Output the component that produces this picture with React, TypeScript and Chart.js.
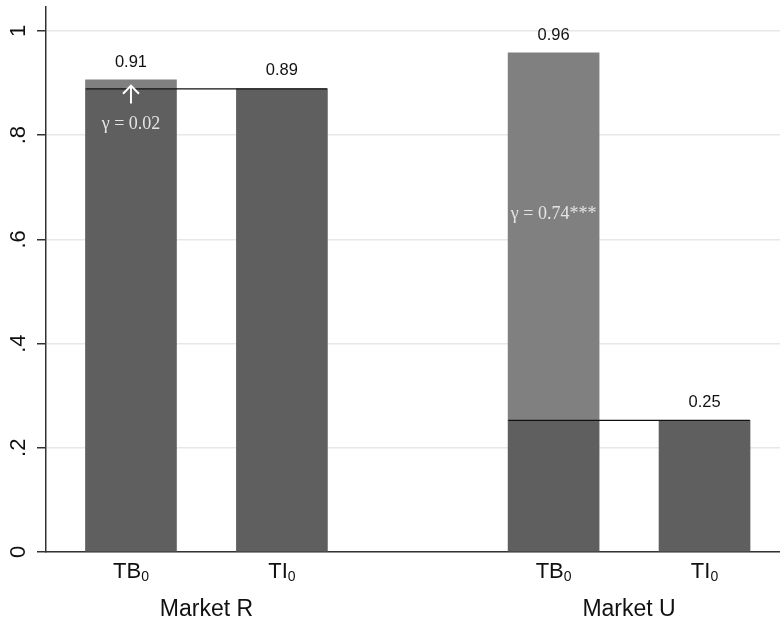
import React, { useEffect, useRef } from "react";
import { Chart, registerables } from "chart.js";

Chart.register(...registerables);

// ---- data ----
const markets = ["Market R", "Market U"];
const categoryNames = ["TB", "TI"];
const categorySubscripts = ["0", "0"];
const tiValues = [0.889, 0.2525]; // TI0 share (also the baseline inside TB0)
const tbValues = [0.906, 0.958]; // TB0 share
const tbLabels = ["0.91", "0.96"];
const tiLabels = ["0.89", "0.25"];
const gammaLabels = ["γ = 0.02", "γ = 0.74***"];
const yTickValues = [0, 0.2, 0.4, 0.6, 0.8, 1];
const yTickLabels = ["0", ".2", ".4", ".6", ".8", "1"];

// ---- layout constants (not data) ----
const GROUP_STRIDE = 2.8;
const HALF_BAR = 0.3;
const gammaY = [0.82, 0.648];
const arrowFrom = 0.861;
const arrowTo = 0.895;

const pos = (m: number, j: number) => 1 + j + m * GROUP_STRIDE;

const DARK = "#5f5f5f";
const LIGHT = "#808080";
const SANS = "'Liberation Sans', Arial, Helvetica, sans-serif";
const SERIF = "'Liberation Serif', 'Times New Roman', serif";

export default function App() {
  const ref = useRef<HTMLCanvasElement | null>(null);

  useEffect(() => {
    document.body.style.margin = "0";
    const canvas = ref.current;
    if (!canvas) return;

    const baseData = markets.flatMap((_, m) => [
      { x: pos(m, 0), y: tiValues[m] },
      { x: pos(m, 1), y: tiValues[m] },
    ]);
    const gapData = markets.map((_, m) => ({ x: pos(m, 0), y: [tiValues[m], tbValues[m]] }));

    const lineSets = markets.map((_, m) => ({
      type: "line" as const,
      data: [
        { x: pos(m, 0) - HALF_BAR, y: tiValues[m] },
        { x: pos(m, 1) + HALF_BAR, y: tiValues[m] },
      ],
      borderColor: "#111",
      borderWidth: 1.3,
      pointRadius: 0,
      order: 0,
    }));

    const overlay = {
      id: "overlay",
      afterDatasetsDraw(chart: any) {
        const ctx = chart.ctx;
        const xs = chart.scales.x;
        const ys = chart.scales.y;
        ctx.save();
        ctx.fillStyle = "#111";
        ctx.font = `16.5px ${SANS}`;
        ctx.textAlign = "center";
        ctx.textBaseline = "middle";
        markets.forEach((_, m) => {
          ctx.fillText(tbLabels[m], xs.getPixelForValue(pos(m, 0)), ys.getPixelForValue(tbValues[m]) - 17);
          ctx.fillText(tiLabels[m], xs.getPixelForValue(pos(m, 1)), ys.getPixelForValue(tiValues[m]) - 18);
        });
        ctx.fillStyle = "#e4e4e4";
        ctx.font = `18px ${SERIF}`;
        markets.forEach((_, m) => {
          ctx.fillText(gammaLabels[m], xs.getPixelForValue(pos(m, 0)), ys.getPixelForValue(gammaY[m]));
        });
        const ax = xs.getPixelForValue(pos(0, 0));
        const y0 = ys.getPixelForValue(arrowFrom);
        const y1 = ys.getPixelForValue(arrowTo);
        ctx.strokeStyle = "#ffffff";
        ctx.lineWidth = 2;
        ctx.beginPath();
        ctx.moveTo(ax, y0);
        ctx.lineTo(ax, y1);
        ctx.moveTo(ax - 8, y1 + 8);
        ctx.lineTo(ax, y1);
        ctx.lineTo(ax + 8, y1 + 8);
        ctx.stroke();
        ctx.restore();
      },
      afterDraw(chart: any) {
        const ctx = chart.ctx;
        const xs = chart.scales.x;
        const ys = chart.scales.y;
        ctx.save();
        ctx.fillStyle = "#111";
        ctx.font = `22px ${SANS}`;
        ctx.textAlign = "center";
        ctx.textBaseline = "middle";
        yTickValues.forEach((v, i) => {
          ctx.save();
          ctx.translate(19, ys.getPixelForValue(v));
          ctx.rotate(-Math.PI / 2);
          ctx.fillText(yTickLabels[i], 0, 0);
          ctx.restore();
        });
        const base = chart.chartArea.bottom + 26;
        markets.forEach((mk, m) => {
          categoryNames.forEach((name, j) => {
            const cx = xs.getPixelForValue(pos(m, j));
            ctx.font = `22px ${SANS}`;
            const w1 = ctx.measureText(name).width;
            ctx.font = `14px ${SANS}`;
            const w2 = ctx.measureText(categorySubscripts[j]).width;
            const left = cx - (w1 + w2) / 2;
            ctx.textAlign = "left";
            ctx.textBaseline = "alphabetic";
            ctx.font = `22px ${SANS}`;
            ctx.fillText(name, left, base);
            ctx.font = `14px ${SANS}`;
            ctx.fillText(categorySubscripts[j], left + w1, base + 3);
          });
          const mx = (xs.getPixelForValue(pos(m, 0)) + xs.getPixelForValue(pos(m, 1))) / 2;
          ctx.font = `23px ${SANS}`;
          ctx.textAlign = "center";
          ctx.fillText(mk, mx, base + 38);
        });
        ctx.restore();
      },
    };

    const chart = new Chart(canvas, {
      type: "bar",
      data: {
        datasets: [
          ...lineSets,
          {
            type: "bar",
            data: gapData as any,
            backgroundColor: LIGHT,
            barThickness: 91,
            grouped: false,
            order: 1,
          } as any,
          {
            type: "bar",
            data: baseData,
            backgroundColor: DARK,
            barThickness: 91,
            grouped: false,
            order: 2,
          } as any,
        ],
      },
      options: {
        animation: false,
        responsive: false,
        events: [],
        layout: { padding: { top: 7, left: 0, right: 0, bottom: 0 } },
        plugins: { legend: { display: false }, tooltip: { enabled: false } },
        scales: {
          x: {
            type: "linear",
            offset: false,
            min: 0.437,
            max: 5.3,
            ticks: { display: false },
            grid: { display: false, offset: false },
            border: { display: true, color: "#333", width: 1.5 },
            afterFit: (s: any) => {
              s.height = 67;
            },
          },
          y: {
            min: 0,
            max: 1.046,
            ticks: { display: false, stepSize: 0.2 },
            afterBuildTicks: (s: any) => {
              s.ticks = yTickValues.map((v) => ({ value: v }));
            },
            grid: {
              color: "#e8e8e8",
              lineWidth: 1.5,
              drawTicks: true,
              tickLength: 9,
              tickColor: "#333",
              tickWidth: 1.5,
            },
            border: { display: true, color: "#333", width: 1.5 },
            afterFit: (s: any) => {
              s.width = 46;
            },
          },
        },
      } as any,
      plugins: [overlay],
    });

    return () => chart.destroy();
  }, []);

  return (
    <div style={{ position: "absolute", left: 0, top: 0, width: 780, height: 619 }}>
      <canvas ref={ref} width={780} height={619} style={{ width: 780, height: 619, display: "block" }} />
    </div>
  );
}
